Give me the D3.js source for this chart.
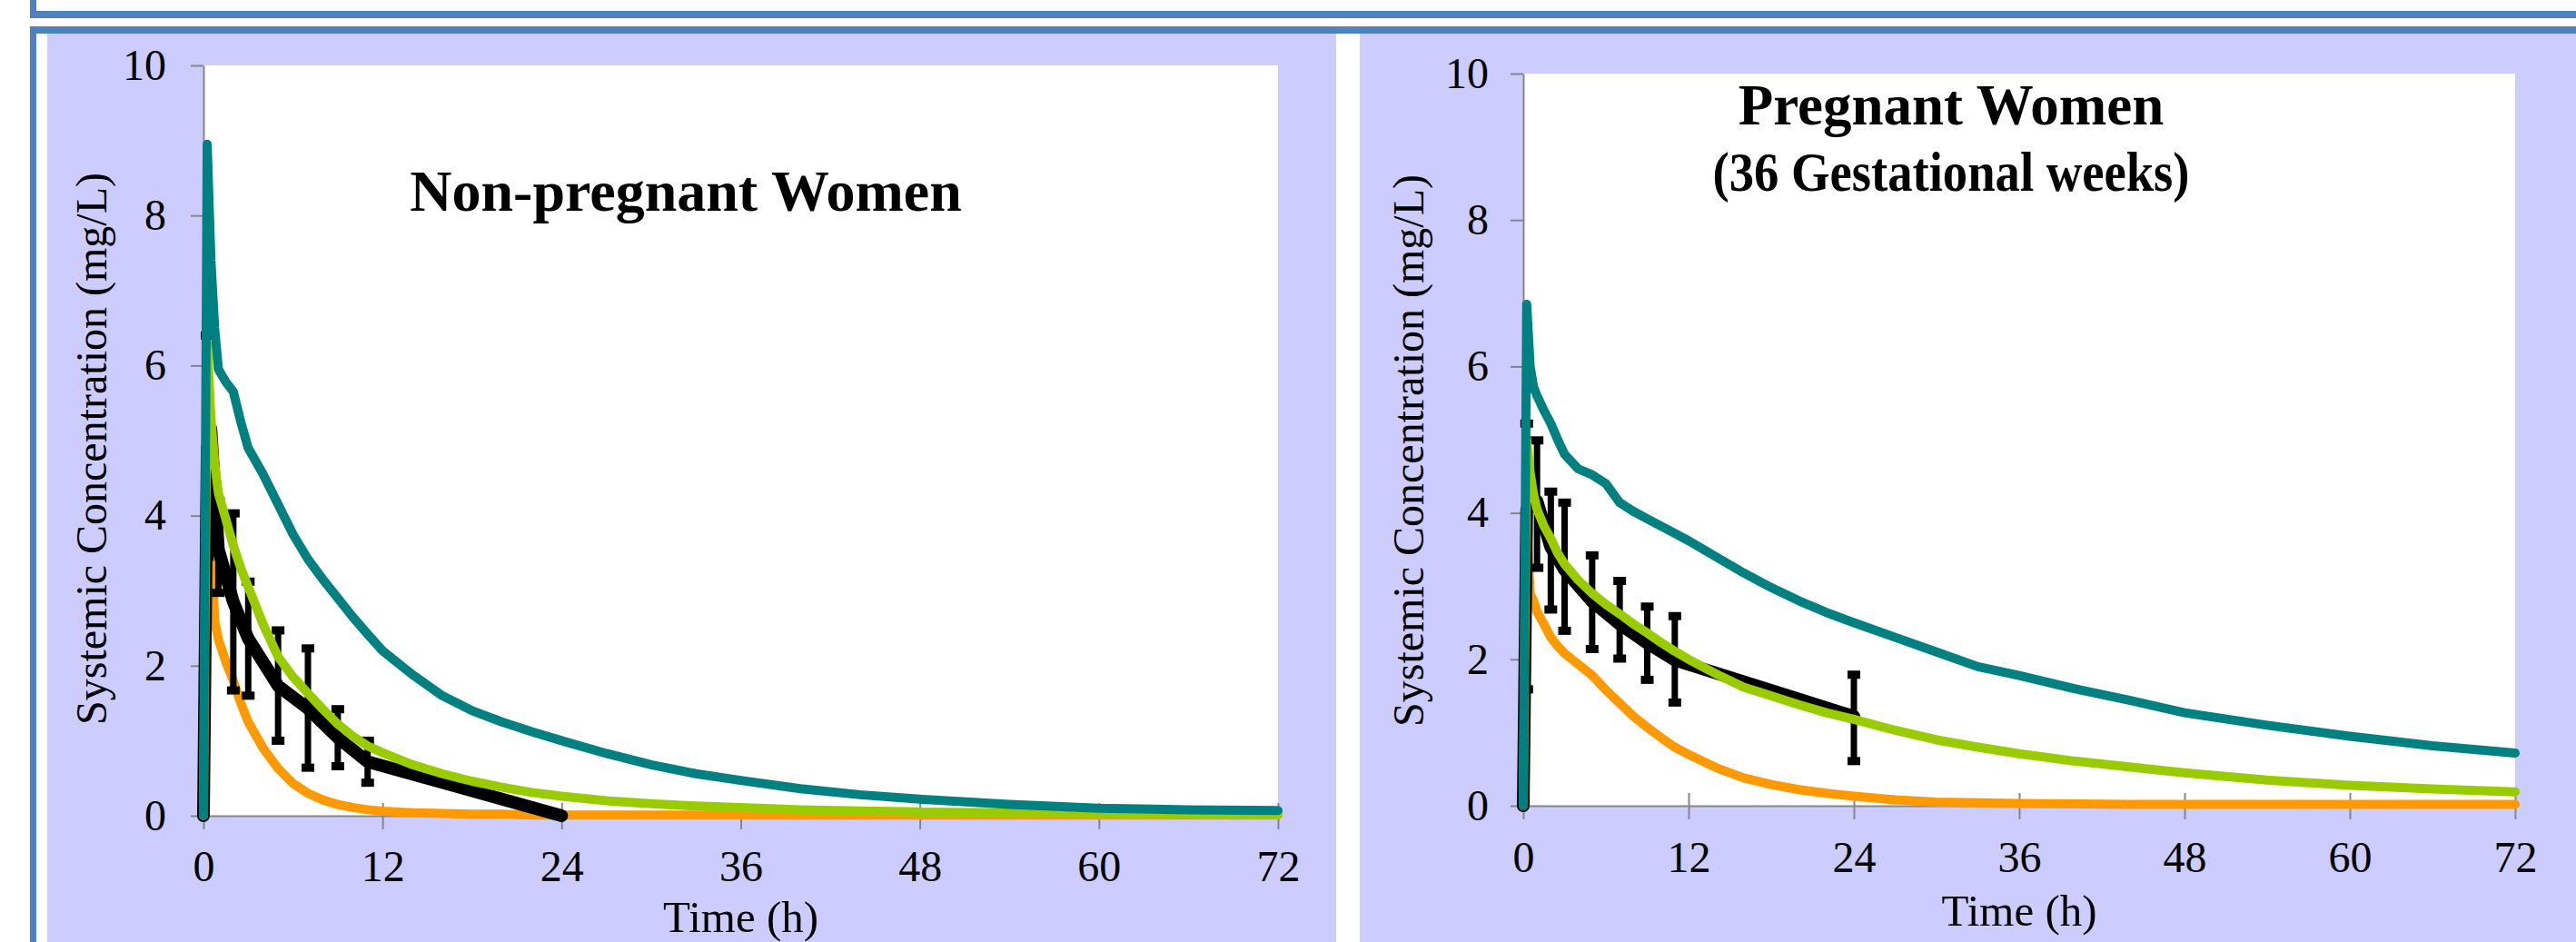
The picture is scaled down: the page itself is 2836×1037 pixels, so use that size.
<!DOCTYPE html>
<html>
<head>
<meta charset="utf-8">
<script src="https://cdn.jsdelivr.net/npm/d3@7"></script>
<style>
  body { margin: 0; background: #fff; }
  text { font-family: "Liberation Serif", "Times New Roman", serif; fill: #000; }
</style>
</head>
<body>
<div id="chart"></div>
<script>
// time grid of the simulated curves (h)
var simTime = [0, 0.25, 0.5, 0.75, 1, 1.5, 2, 2.5, 3, 4, 5, 6, 7, 8, 9, 10, 11, 12, 14, 16, 18, 20, 22, 24, 27, 30, 33, 36, 40, 44, 48, 54, 60, 66, 72];

// non-pregnant women, simulated (mg/L)
var npTeal = [0, 8.95, 7.4, 6.5, 5.95, 5.78, 5.65, 5.25, 4.9, 4.55, 4.15, 3.75, 3.42, 3.15, 2.9, 2.65, 2.42, 2.2, 1.88, 1.6, 1.4, 1.25, 1.12, 1.0, 0.83, 0.68, 0.56, 0.47, 0.36, 0.28, 0.22, 0.15, 0.1, 0.08, 0.07];
var npGreen = [0, 6.3, 5.3, 4.7, 4.3, 3.95, 3.6, 3.3, 3.05, 2.55, 2.12, 1.85, 1.63, 1.42, 1.22, 1.06, 0.93, 0.84, 0.68, 0.56, 0.46, 0.38, 0.31, 0.26, 0.2, 0.16, 0.13, 0.11, 0.08, 0.065, 0.05, 0.04, 0.03, 0.025, 0.02];
var npOrange = [0, 4.4, 3.75, 2.6, 2.35, 2.05, 1.8, 1.5, 1.25, 0.9, 0.63, 0.43, 0.3, 0.21, 0.15, 0.11, 0.08, 0.06, 0.04, 0.03, 0.02, 0.02, 0.01, 0.01, 0.01, 0.01, 0.01, 0.01, 0.01, 0.01, 0.01, 0.01, 0.01, 0.01, 0.01];

// non-pregnant women, observed mean and error bar ends
var npObsTime = [0, 0.25, 0.5, 1, 2, 3, 5, 7, 9, 11, 24];
var npObsMean = [0, 4.9, 5.15, 3.55, 2.85, 2.36, 1.73, 1.43, 1.04, 0.72, 0];
var npObsLow = [null, 3.45, null, 2.97, 1.67, 1.6, 1.0, 0.64, 0.66, 0.44, null];
var npObsHigh = [null, 6.4, null, 4.19, 4.03, 3.12, 2.47, 2.23, 1.42, 1.0, null];

// pregnant women (36 weeks), simulated (mg/L)
var pwTeal = [0, 6.85, 6.0, 5.72, 5.6, 5.4, 5.22, 5.0, 4.8, 4.6, 4.52, 4.4, 4.14, 4.02, 3.92, 3.82, 3.72, 3.62, 3.4, 3.18, 2.98, 2.8, 2.64, 2.5, 2.3, 2.1, 1.9, 1.78, 1.6, 1.44, 1.27, 1.1, 0.95, 0.82, 0.72];
var pwGreen = [0, 5.0, 4.55, 4.25, 4.05, 3.82, 3.65, 3.45, 3.3, 3.08, 2.9, 2.75, 2.62, 2.48, 2.36, 2.23, 2.11, 2.0, 1.8, 1.62, 1.5, 1.38, 1.27, 1.18, 1.03, 0.9, 0.8, 0.71, 0.61, 0.53, 0.45, 0.35, 0.28, 0.23, 0.19];
var pwOrange = [0, 3.9, 2.9, 2.8, 2.65, 2.48, 2.3, 2.18, 2.08, 1.93, 1.78, 1.58, 1.4, 1.22, 1.07, 0.93, 0.8, 0.7, 0.52, 0.38, 0.29, 0.22, 0.17, 0.13, 0.08, 0.05, 0.04, 0.03, 0.025, 0.02, 0.02, 0.02, 0.02, 0.02, 0.02];

// pregnant women, observed
var pwObsTime = [0, 0.25, 1, 2, 3, 5, 7, 9, 11, 24];
var pwObsMean = [0, 4.05, 4.16, 3.53, 3.22, 2.79, 2.48, 2.22, 1.99, 1.22];
var pwObsLow = [null, 1.59, 3.25, 2.68, 2.39, 2.14, 2.01, 1.72, 1.41, 0.61];
var pwObsHigh = [null, 5.22, 4.99, 4.29, 4.14, 3.42, 3.07, 2.72, 2.59, 1.79];

// axis ticks
var xTicks = [0, 12, 24, 36, 48, 60, 72];
var yTicks = [0, 2, 4, 6, 8, 10];

var svgWidth = 2836;
var svgHeight = 1037;
var blue = "#4f81bd";
var lavender = "#ccccff";
var axisGray = "#868686";
var fontFamily = "'Liberation Serif', 'Times New Roman', serif";

var svg = d3.select("#chart")
  .append("svg")
  .attr("width", svgWidth)
  .attr("height", svgHeight);

//frame borders
svg.append("rect").attr("x", 33).attr("y", 0).attr("width", 7).attr("height", 20).attr("fill", blue);
svg.append("rect").attr("x", 33).attr("y", 12).attr("width", svgWidth - 33).attr("height", 8).attr("fill", blue);
svg.append("rect").attr("x", 33).attr("y", 29).attr("width", svgWidth - 33).attr("height", 8).attr("fill", blue);
svg.append("rect").attr("x", 33).attr("y", 29).attr("width", 7).attr("height", svgHeight - 29).attr("fill", blue);

//panel backgrounds
svg.append("rect").attr("x", 52).attr("y", 37).attr("width", 1419).attr("height", svgHeight - 37).attr("fill", lavender);
svg.append("rect").attr("x", 1497).attr("y", 37).attr("width", svgWidth - 1497).attr("height", svgHeight - 37).attr("fill", lavender);

function rows(time, values) {
  return time.map(function(t, i) { return { t: t, c: values[i] }; });
}

var panels = [
  {
    left: 224, right: 1407, top: 72, bottom: 898,
    yLabelPad: 27, yTitleX: 117, yTitleY: 494, xTitleY: 1026, xLabelPad: 23,
    title: ["Non-pregnant Women"], titleX: 755, titleY: [232], titleSize: [64], titleWidth: [null],
    teal: rows(simTime, npTeal), green: rows(simTime, npGreen), orange: rows(simTime, npOrange),
    obsTime: npObsTime, obsMean: npObsMean, obsLow: npObsLow, obsHigh: npObsHigh
  },
  {
    left: 1677, right: 2769, top: 81, bottom: 887,
    yLabelPad: 24, yTitleX: 1567, yTitleY: 496, xTitleY: 1019, xLabelPad: 24,
    title: ["Pregnant Women", "(36 Gestational weeks)"], titleX: 2148, titleY: [137, 210], titleSize: [63, 62], titleWidth: [null, 525],
    teal: rows(simTime, pwTeal), green: rows(simTime, pwGreen), orange: rows(simTime, pwOrange),
    obsTime: pwObsTime, obsMean: pwObsMean, obsLow: pwObsLow, obsHigh: pwObsHigh
  }
];

panels.forEach(function(p) {
  var x = d3.scaleLinear().domain([0, 72]).range([p.left, p.right]);
  var y = d3.scaleLinear().domain([0, 10]).range([p.bottom, p.top]);

  // plot area
  svg.append("rect")
    .attr("x", p.left).attr("y", p.top)
    .attr("width", p.right - p.left).attr("height", p.bottom - p.top)
    .attr("fill", "#fff");

  // y axis
  var yAxis = svg.append("g")
    .attr("transform", "translate(" + p.left + ",0)")
    .call(d3.axisLeft(y).tickValues(yTicks).tickSizeInner(14).tickSizeOuter(0).tickPadding(p.yLabelPad));

  // x axis, ticks cross the line
  var xAxis = svg.append("g")
    .attr("transform", "translate(0," + p.bottom + ")")
    .call(d3.axisBottom(x).tickValues(xTicks).tickSizeInner(15).tickSizeOuter(0).tickPadding(p.xLabelPad));
  xAxis.selectAll(".tick line").attr("y1", -14);

  [xAxis, yAxis].forEach(function(a) {
    a.select(".domain").attr("stroke", axisGray).attr("stroke-width", 2);
    a.selectAll(".tick line").attr("stroke", axisGray).attr("stroke-width", 2);
    a.selectAll(".tick text")
      .style("font-family", fontFamily)
      .style("font-size", "48px")
      .attr("fill", "#000");
  });

  var line = d3.line()
    .x(function(d) { return x(d.t); })
    .y(function(d) { return y(d.c); });

  function drawCurve(data, color, width) {
    svg.append("path")
      .datum(data)
      .attr("d", line)
      .attr("fill", "none")
      .attr("stroke", color)
      .attr("stroke-width", width)
      .attr("stroke-linejoin", "round")
      .attr("stroke-linecap", "round");
  }

  drawCurve(p.orange, "#ff9900", 10);

  // observed data with error bars
  var obs = p.obsTime.map(function(t, i) {
    return { t: t, c: p.obsMean[i], lo: p.obsLow[i], hi: p.obsHigh[i] };
  });
  var bars = obs.filter(function(d) { return d.lo !== null; });
  svg.selectAll(null)
    .data(bars)
    .enter()
    .append("line")
    .attr("x1", function(d) { return x(d.t); })
    .attr("x2", function(d) { return x(d.t); })
    .attr("y1", function(d) { return y(d.lo); })
    .attr("y2", function(d) { return y(d.hi); })
    .attr("stroke", "#000")
    .attr("stroke-width", 7);
  ["lo", "hi"].forEach(function(k) {
    svg.selectAll(null)
      .data(bars)
      .enter()
      .append("line")
      .attr("x1", function(d) { return x(d.t) - 7; })
      .attr("x2", function(d) { return x(d.t) + 7; })
      .attr("y1", function(d) { return y(d[k]); })
      .attr("y2", function(d) { return y(d[k]); })
      .attr("stroke", "#000")
      .attr("stroke-width", 9);
  });
  drawCurve(obs, "#000", 14);

  drawCurve(p.green, "#99cc00", 10);
  drawCurve(p.teal, "#008080", 10);

  // titles (second line of the right title is condensed in the original)
  p.title.forEach(function(s, i) {
    var t = svg.append("text")
      .attr("x", p.titleX)
      .attr("y", p.titleY[i])
      .attr("text-anchor", "middle")
      .style("font-size", p.titleSize[i] + "px")
      .style("font-weight", "bold")
      .text(s);
    if (p.titleWidth[i]) {
      t.attr("textLength", p.titleWidth[i]).attr("lengthAdjust", "spacingAndGlyphs");
    }
  });

  svg.append("text")
    .attr("x", (p.left + p.right) / 2)
    .attr("y", p.xTitleY)
    .attr("text-anchor", "middle")
    .style("font-size", "49px")
    .text("Time (h)");

  svg.append("text")
    .attr("transform", "translate(" + p.yTitleX + "," + p.yTitleY + ") rotate(-90)")
    .attr("text-anchor", "middle")
    .style("font-size", "48px")
    .text("Systemic Concentration (mg/L)");
});
</script>
</body>
</html>
